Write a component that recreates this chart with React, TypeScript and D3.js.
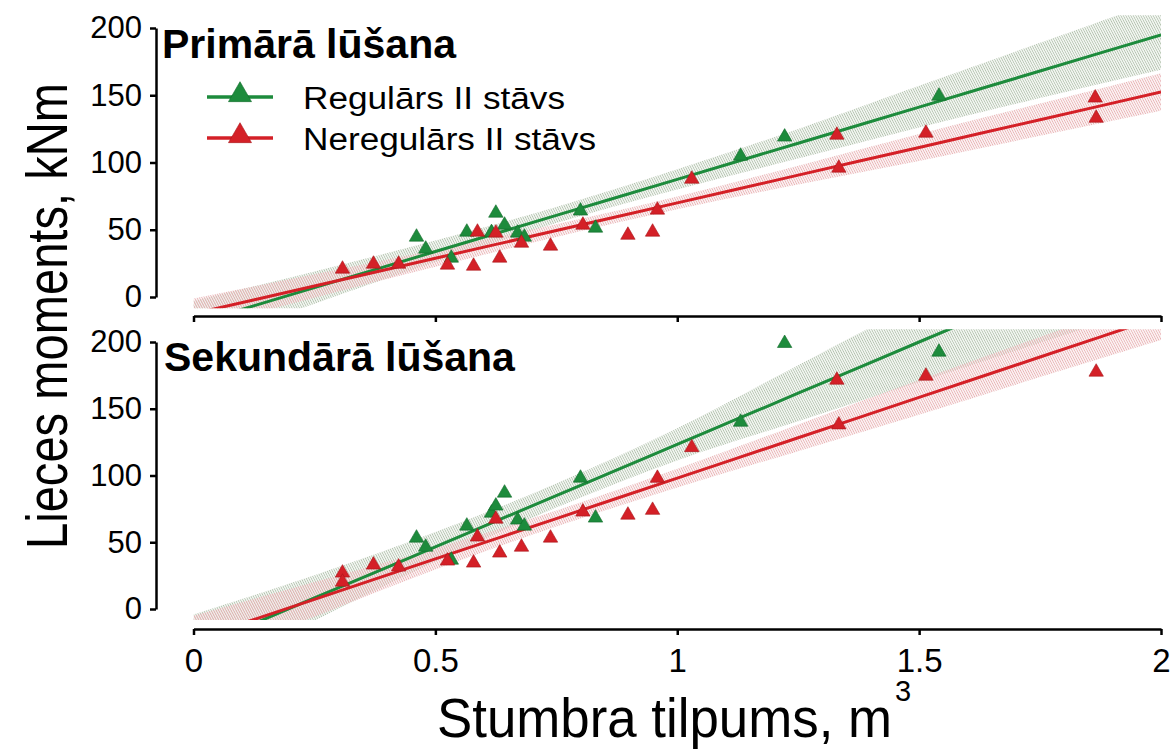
import * as d3 from "d3";
import { useEffect, useRef } from "react";

const WIDTH = 1174;
const HEIGHT = 751;

const xTicks = [0, 0.5, 1, 1.5, 2];
const yTicks = [0, 50, 100, 150, 200];
const panelTitles = ["Primārā lūšana", "Sekundārā lūšana"];
const seriesNames = ["Regulārs II stāvs", "Neregulārs II stāvs"];
const seriesColors = ["#1d8b3c", "#d42027"];
const seriesEdges = ["#0f6a28", "#a8141a"];
const xTitle = "Stumbra tilpums, m";
const xTitleSup = "3";
const yTitle = "Lieces moments, kNm";

// stump volume of trees with regular second storey
const regularVolume = [0.461, 0.48, 0.533, 0.565, 0.616, 0.625, 0.643, 0.67, 0.684, 0.8, 0.831, 1.131, 1.222, 1.541];
const primaryRegular = [44.6, 35.7, 29, 48.3, 48, 62.4, 53.5, 47.6, 44.6, 64, 51.3, 104.8, 119, 149.4];
const secondaryRegular = [53.2, 46.4, 36.7, 62.2, 71.9, 77.2, 86.9, 66.7, 62.2, 98.1, 68.2, 140, 199, 192.5];

// irregular second storey
const irregularVolumePrimary = [0.308, 0.372, 0.424, 0.525, 0.579, 0.587, 0.625, 0.633, 0.678, 0.738, 0.805, 0.898, 0.949, 0.959, 1.03, 1.33, 1.334, 1.514, 1.864, 1.866];
const primaryIrregular = [20.8, 24.5, 24.5, 23.8, 23, 48.3, 47.6, 29, 40.1, 37.9, 53.5, 46, 48.3, 64.7, 87.7, 120.4, 95.9, 121.9, 148, 133];
const irregularVolumeSecondary = [0.308, 0.308, 0.372, 0.424, 0.525, 0.579, 0.587, 0.625, 0.633, 0.678, 0.738, 0.805, 0.898, 0.949, 0.959, 1.03, 1.33, 1.334, 1.514, 1.866];
const secondaryIrregular = [27, 20.2, 33, 31.5, 36, 34.5, 54, 67.4, 42, 46.4, 53.2, 72.7, 70.4, 74, 98, 121, 171.5, 138, 174.5, 177.5];

// fitted lines and confidence bands, read at these volumes
const bandX = [0, 0.25, 0.5, 0.75, 1, 1.25, 1.5, 1.75, 2];
const primaryRegularFit = [-19.9, 6.95, 33.8, 60.65, 87.5, 114.35, 141.2, 168.05, 194.9];
const primaryRegularLow = [-37, -5, 26, 55, 80, 103, 126, 148, 169];
const primaryRegularHigh = [-3, 19, 42, 67, 95, 125, 157, 189, 221];
const primaryIrregularFit = [-12.4, 8.2, 28.8, 49.4, 70, 90.6, 111.2, 131.8, 152.4];
const primaryIrregularLow = [-23.7, -0.5, 22.4, 44.7, 65.3, 83.6, 101.2, 119.8, 138.4];
const primaryIrregularHigh = [-1.1, 16.9, 35.2, 54.1, 74.7, 97.6, 121.2, 143.8, 166.4];
const secondaryRegularFit = [-30.1, 8.25, 46.6, 84.95, 123.3, 161.65, 200, 238.35, 276.7];
const secondaryRegularLow = [-56, -8.75, 35.6, 75.95, 111.3, 140.65, 170, 199.35, 228.7];
const secondaryRegularHigh = [-4.1, 25.25, 57.6, 93.95, 135.3, 182.65, 230, 277.35, 324.7];
const secondaryIrregularFit = [-23, 7.25, 37.5, 67.75, 98, 128.25, 158.5, 188.75, 219];
const secondaryIrregularLow = [-41, -5.75, 29.5, 61.75, 91, 118.25, 145.5, 173.75, 201.5];
const secondaryIrregularHigh = [-5, 20.25, 45.5, 73.75, 105, 138.25, 171.5, 203.75, 236.5];

const FONT = "'Liberation Sans', Arial, sans-serif";

const panels = [
  {
    title: panelTitles[0],
    y0: 297,
    y200: 28,
    series: [
      { xs: regularVolume, ys: primaryRegular, fit: primaryRegularFit, lo: primaryRegularLow, hi: primaryRegularHigh },
      { xs: irregularVolumePrimary, ys: primaryIrregular, fit: primaryIrregularFit, lo: primaryIrregularLow, hi: primaryIrregularHigh },
    ],
  },
  {
    title: panelTitles[1],
    y0: 609,
    y200: 342,
    series: [
      { xs: regularVolume, ys: secondaryRegular, fit: secondaryRegularFit, lo: secondaryRegularLow, hi: secondaryRegularHigh },
      { xs: irregularVolumeSecondary, ys: secondaryIrregular, fit: secondaryIrregularFit, lo: secondaryIrregularLow, hi: secondaryIrregularHigh },
    ],
  },
];

const App = () => {
  const svgRef = useRef<SVGSVGElement | null>(null);

  useEffect(() => {
    const svg = d3.select(svgRef.current);
    svg.selectAll("*").remove();

    const x = d3.scaleLinear().domain([0, 2]).range([193.5, 1161]);

    const defs = svg.append("defs");
    // fine diagonal hatch for the confidence bands
    const hatchColors = ["#b3c3ae", "#e9b3b6"];
    hatchColors.forEach((c, i) => {
      const pat = defs
        .append("pattern")
        .attr("id", `hatch-${i}`)
        .attr("patternUnits", "userSpaceOnUse")
        .attr("width", 2.2)
        .attr("height", 2.2)
        .attr("patternTransform", "rotate(-28)");
      pat.append("line")
        .attr("x1", 1.1)
        .attr("y1", 0)
        .attr("x2", 1.1)
        .attr("y2", 2.2)
        .attr("stroke", c)
        .attr("stroke-width", 1);
    });

    const triangle = d3.symbol(d3.symbolTriangle, 90)();
    const bigTriangle = d3.symbol(d3.symbolTriangle, 230)();

    panels.forEach((p, pi) => {
      const y = d3.scaleLinear().domain([0, 200]).range([p.y0, p.y200]);

      defs.append("clipPath")
        .attr("id", `clip-${pi}`)
        .append("rect")
        .attr("x", x(0))
        .attr("y", y(209.5))
        .attr("width", x(2) - x(0))
        .attr("height", y(-8.3) - y(209.5));

      const plot = svg.append("g").attr("clip-path", `url(#clip-${pi})`);

      const area = d3
        .area<number>()
        .x((d) => x(d))
        .curve(d3.curveMonotoneX);
      const line = d3
        .line<number>()
        .x((d) => x(d))
        .curve(d3.curveMonotoneX);

      // bands
      p.series.forEach((s, si) => {
        plot.append("path")
          .datum(bandX)
          .attr("fill", `url(#hatch-${si})`)
          .attr(
            "d",
            area.y0((_, i) => y(s.lo[i])).y1((_, i) => y(s.hi[i]))
          );
      });
      // fit lines
      p.series.forEach((s, si) => {
        plot.append("path")
          .datum(bandX)
          .attr("fill", "none")
          .attr("stroke", seriesColors[si])
          .attr("stroke-width", 3)
          .attr("d", line.y((_, i) => y(s.fit[i])));
      });
      // points
      p.series.forEach((s, si) => {
        plot.selectAll(null)
          .data(s.xs)
          .enter()
          .append("path")
          .attr("d", triangle)
          .attr("transform", (d, i) => `translate(${x(d)},${y(s.ys[i])})`)
          .attr("fill", seriesColors[si])
          .attr("stroke", seriesEdges[si])
          .attr("stroke-width", 0.6);
      });

      // y axis
      const yAxis = svg.append("g")
        .attr("transform", "translate(156,0)")
        .call(
          d3.axisLeft(y).tickValues(yTicks).tickSize(6).tickSizeOuter(0).tickPadding(8)
        );
      yAxis.select(".domain").attr("stroke", "#000").attr("stroke-width", 2.5);
      yAxis.selectAll(".tick line").attr("stroke", "#000").attr("stroke-width", 2.5);
      yAxis.selectAll(".tick text")
        .attr("font-family", FONT)
        .attr("font-size", 31)
        .attr("fill", "#000");

      // panel title
      svg.append("text")
        .attr("x", pi === 0 ? 162 : 164)
        .attr("y", pi === 0 ? 58 : 371)
        .attr("font-family", FONT)
        .attr("font-weight", "bold")
        .attr("font-size", 41)
        .attr("fill", "#000")
        .text(p.title);
    });

    // shared horizontal axes
    const midAxis = svg.append("g")
      .attr("transform", "translate(0,316)")
      .call(d3.axisBottom(x).tickValues(xTicks).tickSize(6).tickSizeOuter(0).tickFormat(() => ""));
    const botAxis = svg.append("g")
      .attr("transform", "translate(0,629)")
      .call(
        d3.axisBottom(x).tickValues(xTicks).tickSize(6).tickSizeOuter(0).tickPadding(14)
          .tickFormat((d) => String(d))
      );
    [midAxis, botAxis].forEach((a) => {
      a.select(".domain").attr("stroke", "#000").attr("stroke-width", 2.5);
      a.selectAll(".tick line").attr("stroke", "#000").attr("stroke-width", 2.5);
    });
    botAxis.selectAll(".tick text")
      .attr("font-family", FONT)
      .attr("font-size", 33)
      .attr("fill", "#000");

    // legend
    const legendRows = [97, 138];
    seriesNames.forEach((name, i) => {
      const g = svg.append("g");
      g.append("line")
        .attr("x1", 207)
        .attr("x2", 273)
        .attr("y1", legendRows[i])
        .attr("y2", legendRows[i])
        .attr("stroke", seriesColors[i])
        .attr("stroke-width", 3.5);
      g.append("path")
        .attr("d", bigTriangle)
        .attr("transform", `translate(240,${legendRows[i] - 2})`)
        .attr("fill", seriesColors[i])
        .attr("stroke", seriesEdges[i])
        .attr("stroke-width", 0.6);
      g.append("text")
        .attr("x", 303)
        .attr("y", legendRows[i] + 12)
        .attr("font-family", FONT)
        .attr("font-size", 31)
        .attr("textLength", i === 0 ? 262 : 293)
        .attr("lengthAdjust", "spacingAndGlyphs")
        .attr("fill", "#000")
        .text(name);
    });

    // axis titles
    svg.append("text")
      .attr("transform", "translate(67,316) rotate(-90)")
      .attr("text-anchor", "middle")
      .attr("font-family", FONT)
      .attr("font-size", 57)
      .attr("textLength", 466)
      .attr("lengthAdjust", "spacingAndGlyphs")
      .attr("fill", "#000")
      .text(yTitle);

    svg.append("text")
      .attr("x", 437)
      .attr("y", 737)
      .attr("font-family", FONT)
      .attr("font-size", 56)
      .attr("textLength", 455)
      .attr("lengthAdjust", "spacingAndGlyphs")
      .attr("fill", "#000")
      .text(xTitle);
    svg.append("text")
      .attr("x", 895)
      .attr("y", 701)
      .attr("font-family", FONT)
      .attr("font-size", 29)
      .attr("fill", "#000")
      .text(xTitleSup);
  }, []);

  return (
    <svg
      ref={svgRef}
      width={WIDTH}
      height={HEIGHT}
      style={{ position: "absolute", left: 0, top: 0, background: "#fff" }}
    />
  );
};

export default App;
